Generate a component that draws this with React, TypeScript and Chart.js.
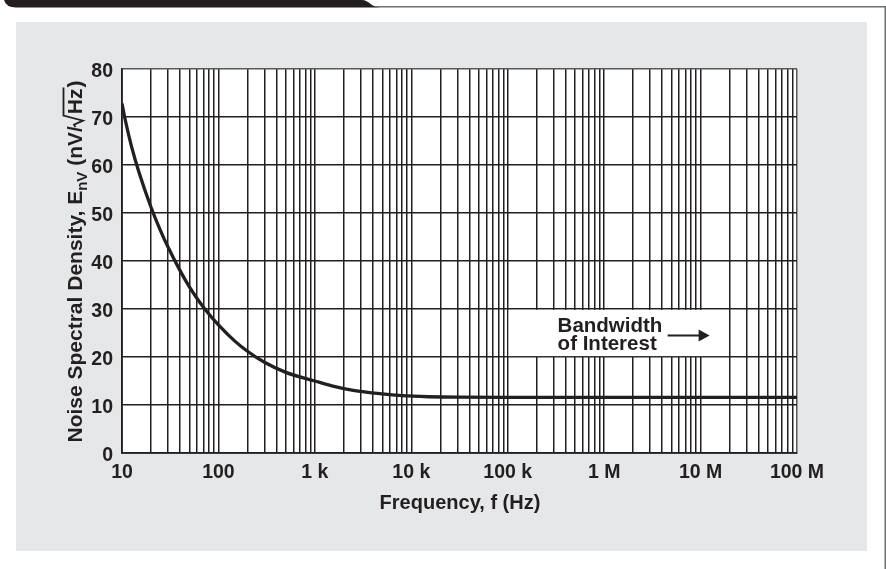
import React, { useEffect, useRef } from 'react';
import { Chart, registerables } from 'chart.js';

Chart.register(...registerables);

// Curve (frequency in Hz, noise density in nV/√Hz)
const frequencies = [10, 11, 12.5, 15, 20, 25, 30, 40, 50, 60, 75, 100, 150, 200, 300, 500, 1000, 1500, 2500, 5000, 8000, 15000, 30000, 100000, 1000000, 10000000, 100000000];
const noiseDensity = [72.8, 68.7, 64.0, 58.5, 51.2, 46.4, 42.9, 38.0, 34.6, 32.2, 29.6, 26.7, 23.2, 21.2, 18.9, 16.8, 15.0, 14.0, 13.05, 12.3, 11.95, 11.72, 11.62, 11.6, 11.6, 11.6, 11.6];

// Axis ticks
const decadeValues = [10, 100, 1000, 10000, 100000, 1000000, 10000000, 100000000];
const xTickLabels = ['10', '100', '1 k', '10 k', '100 k', '1 M', '10 M', '100 M'];
const minorMultipliers = [1, 2, 3, 4, 5, 6, 7, 8, 9];
const yMin = 0;
const yMax = 80;
const yStep = 10;

const xTitle = 'Frequency, f (Hz)';
const yTitleMain = 'Noise Spectral Density, E';
const yTitleSub = 'nV';
const yTitleUnitA = ' (nV/';
const yTitleUnitRoot = 'Hz';
const yTitleUnitB = ')';
const noteLines = ['Bandwidth', 'of Interest'];

const FONT = '"Liberation Sans", Arial, Helvetica, sans-serif';
const INK = '#231f20';

const gridValues: number[] = [];
decadeValues.forEach((d, i) => {
  if (i === decadeValues.length - 1) {
    gridValues.push(d);
  } else {
    minorMultipliers.forEach((m) => gridValues.push(m * d));
  }
});

const decorPlugin = {
  id: 'decor',
  beforeDraw(chart: any) {
    const { ctx, chartArea: a } = chart;
    ctx.save();
    // gray panel
    ctx.fillStyle = '#e6e7e8';
    ctx.fillRect(16, 22, 851, 529);
    // white plot area
    ctx.fillStyle = '#ffffff';
    ctx.fillRect(a.left, a.top, a.right - a.left, a.bottom - a.top);
    // header tab
    ctx.fillStyle = INK;
    ctx.beginPath();
    ctx.moveTo(4, 0);
    ctx.lineTo(362, 0);
    ctx.bezierCurveTo(369, 0, 371, 7.5, 381, 7.5);
    ctx.lineTo(16, 7.5);
    ctx.quadraticCurveTo(6, 7.5, 4, 0);
    ctx.closePath();
    ctx.fill();
    ctx.strokeStyle = '#6d6e71';
    ctx.lineWidth = 1.5;
    ctx.beginPath();
    ctx.moveTo(375, 6.75);
    ctx.lineTo(885.25, 6.75);
    ctx.lineTo(885.25, 569);
    ctx.stroke();
    ctx.restore();
  },
  beforeDatasetsDraw(chart: any) {
    const { ctx } = chart;
    const xs = chart.scales.x;
    const ys = chart.scales.y;
    const left = xs.getPixelForValue(100000) + 0.9;
    const right = xs.getPixelForValue(20000000) - 0.9;
    const top = ys.getPixelForValue(30) + 0.9;
    const bottom = ys.getPixelForValue(20) - 0.9;
    ctx.save();
    ctx.fillStyle = '#ffffff';
    ctx.fillRect(left, top, right - left, bottom - top);
    ctx.fillStyle = INK;
    ctx.font = `bold 20.5px ${FONT}`;
    ctx.textAlign = 'left';
    ctx.textBaseline = 'alphabetic';
    const tx = left + 49;
    ctx.fillText(noteLines[0], tx, top + 22);
    ctx.fillText(noteLines[1], tx, top + 40.5);
    // arrow
    const ay = top + 25.5;
    ctx.strokeStyle = INK;
    ctx.lineWidth = 2;
    ctx.beginPath();
    ctx.moveTo(tx + 110, ay);
    ctx.lineTo(tx + 144, ay);
    ctx.stroke();
    ctx.beginPath();
    ctx.moveTo(tx + 141, ay - 6);
    ctx.lineTo(tx + 152, ay);
    ctx.lineTo(tx + 141, ay + 6);
    ctx.closePath();
    ctx.fill();
    ctx.restore();
  },
  afterDraw(chart: any) {
    const { ctx } = chart;
    ctx.save();
    ctx.fillStyle = INK;
    ctx.strokeStyle = INK;
    // x title
    ctx.font = `bold 20px ${FONT}`;
    ctx.textAlign = 'center';
    ctx.textBaseline = 'alphabetic';
    ctx.fillText(xTitle, 460, 509);

    // y title (rotated)
    const mainFont = `bold 21px ${FONT}`;
    const subFont = `bold 15px ${FONT}`;
    ctx.translate(82, 261.5);
    ctx.rotate(-Math.PI / 2);
    ctx.textAlign = 'left';
    ctx.font = mainFont;
    const wMain = ctx.measureText(yTitleMain).width;
    const wA = ctx.measureText(yTitleUnitA).width;
    const wRoot = ctx.measureText(yTitleUnitRoot).width;
    const wB = ctx.measureText(yTitleUnitB).width;
    ctx.font = subFont;
    const wSub = ctx.measureText(yTitleSub).width;
    const radW = 12;
    const total = wMain + wSub + wA + radW + wRoot + wB + 1;
    let x = -total / 2;
    ctx.font = mainFont;
    ctx.fillText(yTitleMain, x, 0);
    x += wMain;
    ctx.font = subFont;
    ctx.fillText(yTitleSub, x, 5);
    x += wSub;
    ctx.font = mainFont;
    ctx.fillText(yTitleUnitA, x, 0);
    x += wA;
    const r0 = x - 1;
    x += radW;
    ctx.fillText(yTitleUnitRoot, x, 0);
    x += wRoot;
    ctx.lineWidth = 1.8;
    ctx.lineJoin = 'miter';
    ctx.beginPath();
    ctx.moveTo(r0, -6.5);
    ctx.lineTo(r0 + 2.5, -8);
    ctx.lineTo(r0 + 6.5, 1);
    ctx.lineTo(r0 + 11.5, -18.5);
    ctx.lineTo(x + 1, -18.5);
    ctx.stroke();
    ctx.fillText(yTitleUnitB, x + 1, 0);
    ctx.restore();
  },
};

export default function App() {
  const canvasRef = useRef<HTMLCanvasElement | null>(null);

  useEffect(() => {
    if (!canvasRef.current) return;
    const points = frequencies.map((f, i) => ({ x: f, y: noiseDensity[i] }));
    const chart = new Chart(canvasRef.current, {
      type: 'line',
      data: {
        datasets: [
          {
            data: points,
            borderColor: INK,
            borderWidth: 3.3,
            pointRadius: 0,
            cubicInterpolationMode: 'monotone',
            fill: false,
          },
        ],
      },
      options: {
        responsive: false,
        animation: false,
        devicePixelRatio: 1,
        layout: { padding: { left: 0, top: 69, right: 89, bottom: 0 } },
        plugins: {
          legend: { display: false },
          tooltip: { enabled: false },
        },
        scales: {
          x: {
            type: 'logarithmic',
            min: decadeValues[0],
            max: decadeValues[decadeValues.length - 1],
            afterBuildTicks: (scale: any) => {
              scale.ticks = gridValues.map((v) => ({ value: v }));
            },
            afterFit: (scale: any) => {
              scale.height = 116;
            },
            grid: {
              drawTicks: false,
              lineWidth: 1.5,
              color: (c: any) => (c.tick && c.tick.value === 100000000 ? '#58595b' : INK),
            },
            border: { color: INK, width: 1.8 },
            ticks: {
              autoSkip: false,
              maxRotation: 0,
              minRotation: 0,
              padding: 8,
              color: INK,
              font: { family: FONT, size: 19.5, weight: 'bold' },
              callback: (value: any) => {
                const v = Number(value);
                const i = decadeValues.findIndex((d) => Math.abs(d - v) / d < 1e-9);
                return i >= 0 ? xTickLabels[i] : '';
              },
            },
          },
          y: {
            type: 'linear',
            min: yMin,
            max: yMax,
            afterFit: (scale: any) => {
              scale.width = 122;
            },
            grid: {
              drawTicks: false,
              lineWidth: 1.5,
              color: (c: any) => (c.tick && c.tick.value === yMax ? '#58595b' : INK),
            },
            border: { color: INK, width: 1.8 },
            ticks: {
              stepSize: yStep,
              padding: 9,
              labelOffset: 3,
              color: INK,
              font: { family: FONT, size: 19.5, weight: 'bold' },
            },
          },
        },
      },
      plugins: [decorPlugin],
    } as any);
    return () => chart.destroy();
  }, []);

  return (
    <div style={{ position: 'fixed', left: 0, top: 0, width: 886, height: 569, background: '#ffffff' }}>
      <canvas ref={canvasRef} width={886} height={569} style={{ width: 886, height: 569, display: 'block' }} />
    </div>
  );
}
